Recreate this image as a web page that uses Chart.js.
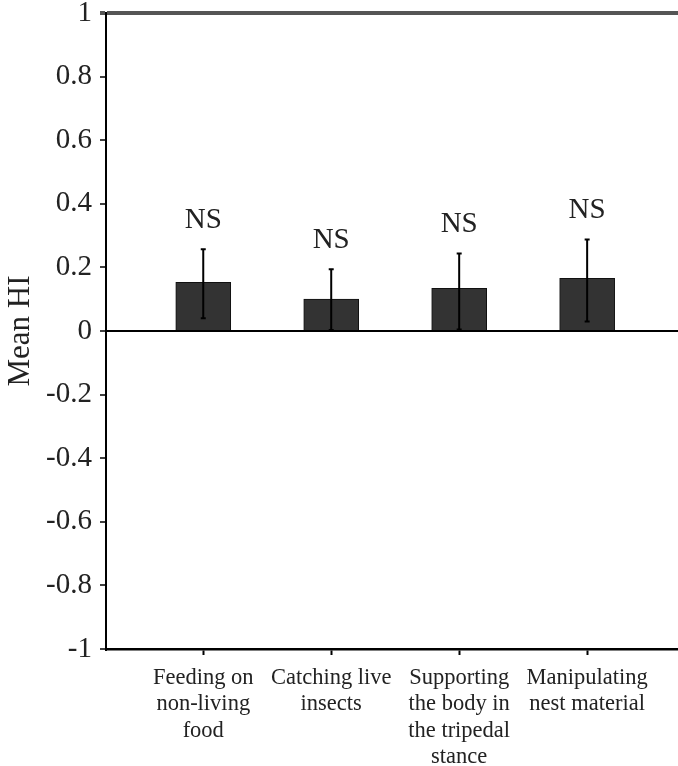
<!DOCTYPE html>
<html>
<head>
<meta charset="utf-8">
<script src="https://cdn.jsdelivr.net/npm/chart.js@4.4.0/dist/chart.umd.min.js"></script>
<style>
  html, body { margin: 0; padding: 0; background: #fff; }
</style>
</head>
<body>
<canvas id="hiChart" width="678" height="766"></canvas>
<script>
// Mean HI per behaviour, error bars + significance labels

const categories = [
  ['Feeding on', 'non-living', 'food'],
  ['Catching live', 'insects'],
  ['Supporting', 'the body in', 'the tripedal', 'stance'],
  ['Manipulating', 'nest material']
];
const meanHI = [0.153, 0.10, 0.134, 0.166];
const errorHigh = [0.257, 0.194, 0.244, 0.288];
const errorLow = [0.04, 0.003, 0.005, 0.03];
const sigLabels = ['NS', 'NS', 'NS', 'NS'];
const yTicks = [1, 0.8, 0.6, 0.4, 0.2, 0, -0.2, -0.4, -0.6, -0.8, -1];

const SERIF = '"Liberation Serif", "Times New Roman", serif';

// draws the error bars and the NS labels over the bars
const errorBarPlugin = {
  id: 'errorBars',
  afterDatasetsDraw(chart) {
    const ctx = chart.ctx;
    const y = chart.scales.y;
    const meta = chart.getDatasetMeta(0);
    ctx.save();
    ctx.strokeStyle = '#000';
    ctx.lineWidth = 2;
    ctx.fillStyle = '#222';
    ctx.font = '29px ' + SERIF;
    ctx.textAlign = 'center';
    ctx.textBaseline = 'middle';
    meta.data.forEach((bar, i) => {
      const top = y.getPixelForValue(errorHigh[i]);
      const bottom = y.getPixelForValue(errorLow[i]);
      ctx.beginPath();
      ctx.moveTo(bar.x, bottom);
      ctx.lineTo(bar.x, top);
      ctx.moveTo(bar.x - 2.5, top);
      ctx.lineTo(bar.x + 2.5, top);
      ctx.moveTo(bar.x - 2.5, bottom);
      ctx.lineTo(bar.x + 2.5, bottom);
      ctx.stroke();
      ctx.fillText(sigLabels[i], bar.x, top - 29);
    });
    ctx.restore();
  }
};

new Chart(document.getElementById('hiChart'), {
  type: 'bar',
  data: {
    datasets: [{
      data: meanHI.map((v, i) => ({ x: i + 1, y: v })),
      backgroundColor: '#333333',
      borderColor: '#111111',
      borderWidth: 1,
      barThickness: 55
    }]
  },
  options: {
    responsive: false,
    animation: false,
    devicePixelRatio: 1,
    layout: { padding: { top: 0, right: 0, bottom: 0, left: 0 } },
    plugins: {
      legend: { display: false },
      tooltip: { enabled: false }
    },
    scales: {
      x: {
        type: 'linear',
        bounds: 'data',
        offset: false,
        min: 0.24,
        max: 4.71,
        afterBuildTicks: s => { s.ticks = categories.map((c, i) => ({ value: i + 1 })); },
        afterFit: s => { s.height = 117; },
        grid: { offset: false, drawOnChartArea: false, tickLength: 6, tickColor: '#000', tickWidth: 2 },
        border: { color: '#000', width: 2.5 },
        ticks: {
          autoSkip: false,
          maxRotation: 0,
          padding: 10,
          color: '#222',
          font: { family: SERIF, size: 22.5, lineHeight: 1.17 },
          callback: v => categories[v - 1]
        }
      },
      y: {
        min: -1,
        max: 1,
        afterBuildTicks: s => { s.ticks = yTicks.map(v => ({ value: v })); },
        afterFit: s => { s.width = 106; s.paddingTop = 13; s.paddingBottom = 0; },
        grid: {
          drawOnChartArea: true,
          color: c => c.tick.value === 0 ? '#000' : (c.tick.value === 1 ? '#555' : 'rgba(0,0,0,0)'),
          lineWidth: c => c.tick.value === 1 ? 4 : 2,
          tickColor: c => c.tick.value === 1 ? '#555' : '#000',
          tickWidth: c => c.tick.value === 1 ? 4 : 1.5,
          tickLength: 6
        },
        border: { color: '#000', width: 2 },
        ticks: {
          padding: 8,
          color: '#222',
          font: { family: SERIF, size: 29 },
          callback: v => String(v)
        },
        title: {
          display: true,
          text: 'Mean HI',
          color: '#222',
          font: { family: SERIF, size: 31 },
          padding: { top: 2, bottom: 0 }
        }
      }
    }
  },
  plugins: [errorBarPlugin]
});
</script>
</body>
</html>
